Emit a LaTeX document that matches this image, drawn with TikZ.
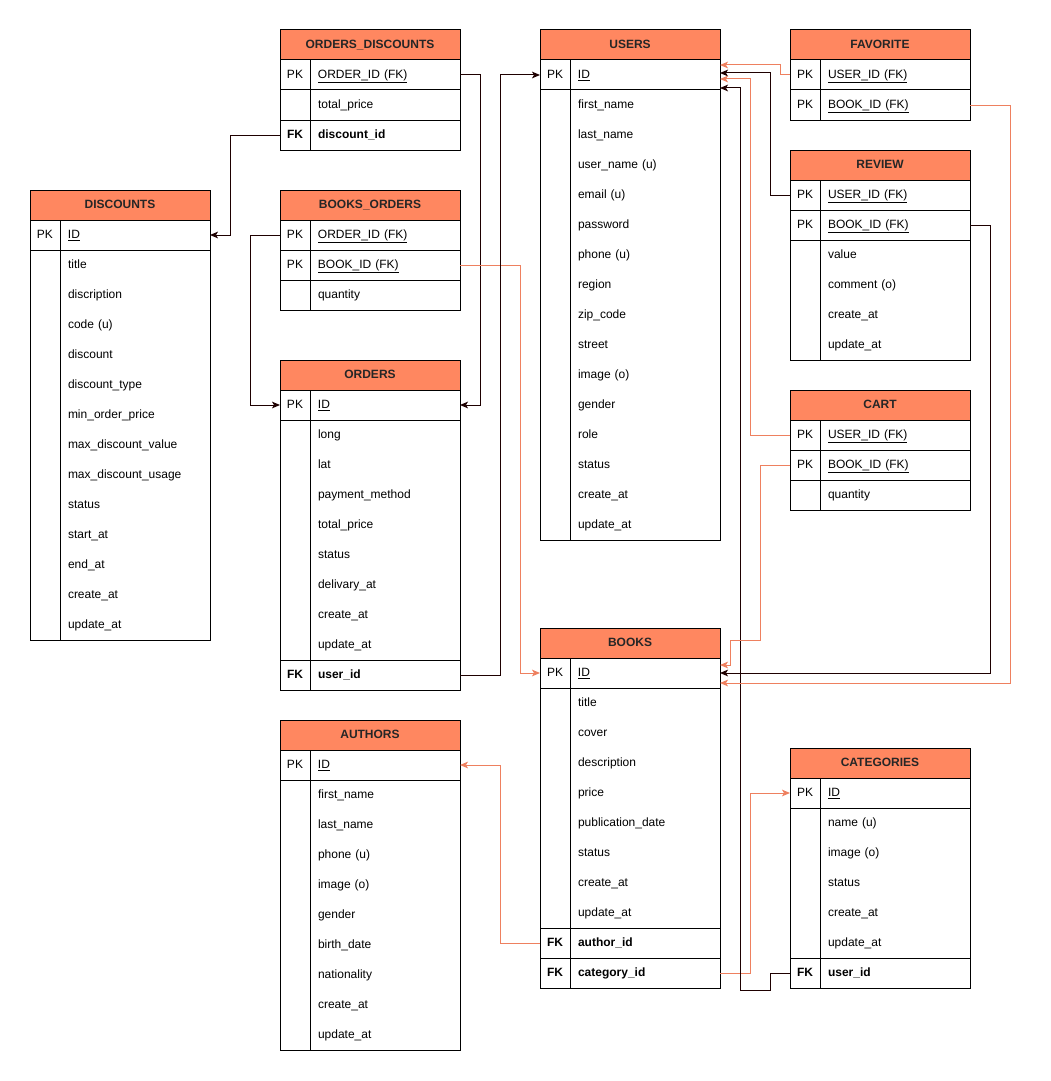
\documentclass[tikz,border=0pt]{standalone}
\usepackage{fontspec}
\setmainfont{Liberation Sans}
\usetikzlibrary{arrows.meta}
\definecolor{headfill}{RGB}{255,135,96}
\definecolor{reldark}{RGB}{30,0,0}
\definecolor{relorange}{RGB}{238,128,95}
\newcommand{\pkf}[1]{\underline{#1}}
\newcommand{\fkf}[1]{\textbf{#1}}
\newcommand{\ertable}[5]{%
  \node[tblhead] (#1) at (#2,#3) {#4};
  \foreach \colkey/\colname [count=\i] in {#5} {
    \node[tblrow] (#1-\i) at (#2,{#3+30*\i}) {\makebox[22.5pt]{\colkey}\hspace{6pt}\colname};
    \draw ([xshift=22.5pt]#1-\i.north west) -- ([xshift=22.5pt]#1-\i.south west);
    \ifx\colkey\empty\else
      \draw (#1-\i.north west) -- (#1-\i.north east) (#1-\i.south west) -- (#1-\i.south east);
    \fi
    \xdef\lastrow{\i}
  }%
  \draw (#1.north west) rectangle (#1-\lastrow.south east);
}

\begin{document}
\begin{tikzpicture}[
    x=0.75pt, y=-0.75pt, line width=0.75pt,
    tblhead/.style={draw, fill=headfill, anchor=north west, minimum width=135pt, minimum height=22.5pt, inner sep=0pt, outer sep=0pt, text height=7pt, text depth=2pt, font=\fontsize{9}{11}\selectfont\bfseries, text=black!85},
    tblrow/.style={anchor=north west, text width=135pt, minimum height=22.5pt, inner sep=0pt, outer sep=0pt, align=left, text height=7pt, text depth=2pt, font=\fontsize{9}{11}\selectfont},
    link/.style={draw=reldark, -{Stealth[length=6pt, width=5pt, inset=1.5pt]}},
    linko/.style={draw=relorange, -{Stealth[length=6pt, width=5pt, inset=1.5pt]}}
]
\useasboundingbox (0,0) rectangle (1050,1081);

% Column 1: Discounts (Left)
\ertable{disc}{30}{190}{DISCOUNTS}{PK/\pkf{ID}, /title, /discription, /code (u), /discount, /discount\_type, /min\_order\_price, /max\_discount\_value, /max\_discount\_usage, /status, /start\_at, /end\_at, /create\_at, /update\_at}

% Column 2: Orders and Authors
\ertable{odisc}{280}{30}{ORDERS\_DISCOUNTS}{PK/\pkf{ORDER\_ID (FK)}, /total\_price, \fkf{FK}/\fkf{discount\_id}}
\ertable{bord}{280}{190}{BOOKS\_ORDERS}{PK/\pkf{ORDER\_ID (FK)}, PK/\pkf{BOOK\_ID (FK)}, /quantity}
\ertable{ord}{280}{360}{ORDERS}{PK/\pkf{ID}, /long, /lat, /payment\_method, /total\_price, /status, /delivary\_at, /create\_at, /update\_at, \fkf{FK}/\fkf{user\_id}}
\ertable{auth}{280}{720}{AUTHORS}{PK/\pkf{ID}, /first\_name, /last\_name, /phone (u), /image (o), /gender, /birth\_date, /nationality, /create\_at, /update\_at}

% Column 3: Users and Books (Center)
\ertable{users}{540}{30}{USERS}{PK/\pkf{ID}, /first\_name, /last\_name, /user\_name (u), /email (u), /password, /phone (u), /region, /zip\_code, /street, /image (o), /gender, /role, /status, /create\_at, /update\_at}
\ertable{books}{540}{628}{BOOKS}{PK/\pkf{ID}, /title, /cover, /description, /price, /publication\_date, /status, /create\_at, /update\_at, \fkf{FK}/\fkf{author\_id}, \fkf{FK}/\fkf{category\_id}}

% Column 4: Link tables and Categories (Right)
\ertable{fav}{790}{30}{FAVORITE}{PK/\pkf{USER\_ID (FK)}, PK/\pkf{BOOK\_ID (FK)}}
\ertable{review}{790}{150}{REVIEW}{PK/\pkf{USER\_ID (FK)}, PK/\pkf{BOOK\_ID (FK)}, /value, /comment (o), /create\_at, /update\_at}
\ertable{cart}{790}{390}{CART}{PK/\pkf{USER\_ID (FK)}, PK/\pkf{BOOK\_ID (FK)}, /quantity}
\ertable{cat}{790}{748}{CATEGORIES}{PK/\pkf{ID}, /name (u), /image (o), /status, /create\_at, /update\_at, \fkf{FK}/\fkf{user\_id}}

% Edges
\draw[link] (odisc-1.east) -- ++(20,0) |- (ord-1.east);
\draw[link] (odisc-3.west) -- ++(-50,0) |- (disc-1.east);
\draw[link] (bord-1.west) -- ++(-30,0) |- (ord-1.west);
\draw[linko] (bord-2.east) -- ++(60,0) |- (books-1.west);
\draw[link] (ord-10.east) -- ++(40,0) |- (users-1.west);

\draw[linko] (books-10.west) -- ++(-40,0) |- (auth-1.east);
\draw[linko] (books-11.east) -- ++(30,0) |- (cat-1.west);

\draw[linko] (fav-1.west) -- ++(-10,0) |- ([yshift=7.5pt]users-1.east);
\draw[link] (review-1.west) -- ++(-20,0) |- ([yshift=1.5pt]users-1.east);
\draw[linko] (cart-1.west) -- ++(-40,0) |- ([yshift=-3pt]users-1.east);
\draw[link] (cat-7.west) -- ++(-20,0) -- ++(0,17) -- ++(-30,0) |- ([yshift=-9.75pt]users-1.east);

\draw[linko] (cart-2.west) -- ++(-30,0) -- ++(0,175) -- ++(-30,0) |- ([yshift=6pt]books-1.east);
\draw[link] (review-2.east) -- ++(20,0) |- (books-1.east);
\draw[linko] (fav-2.east) -- ++(40,0) |- ([yshift=-7.5pt]books-1.east);

\end{tikzpicture}
\end{document}
